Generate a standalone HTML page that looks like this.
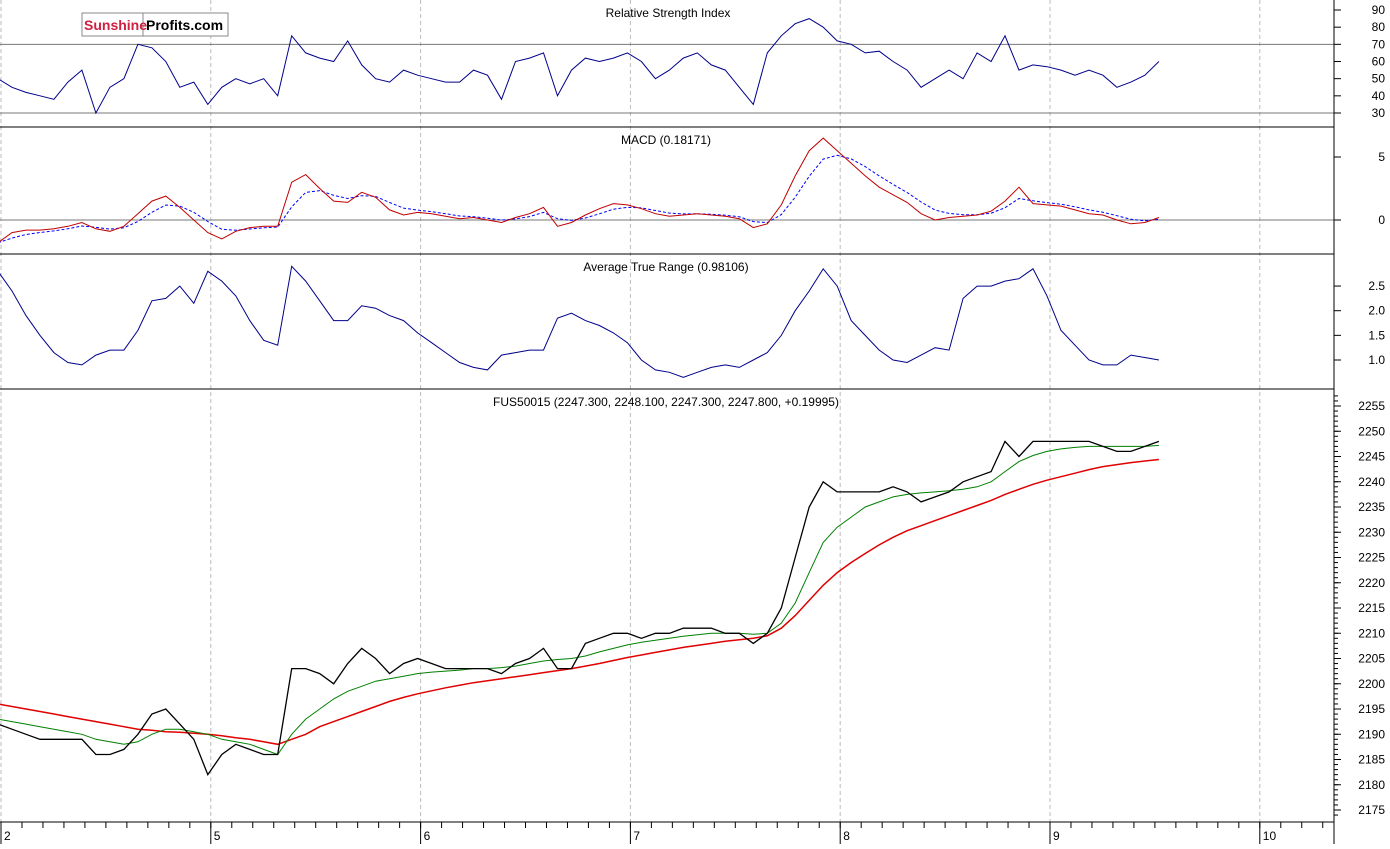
<!DOCTYPE html>
<html><head><meta charset="utf-8"><style>
body{margin:0;background:#fff;font-family:"Liberation Sans",sans-serif}
svg text{font-family:"Liberation Sans",sans-serif;font-size:12px;fill:#000}
</style></head><body>
<svg id="c" width="1390" height="844" xmlns="http://www.w3.org/2000/svg"></svg>
<script>
// ---- data (one value per ~1/15 session) ----
const dayLabels = ["2","5","6","7","8","9","10"];
const closes = [2192,2191,2190,2189,2189,2189,2189,2186,2186,2187,2190,2194,2195,2192,2189,2182,2186,2188,2187,2186,2186,2203,2203,2202,2200,2204,2207,2205,2202,2204,2205,2204,2203,2203,2203,2203,2202,2204,2205,2207,2203,2203,2208,2209,2210,2210,2209,2210,2210,2211,2211,2211,2210,2210,2208,2210,2215,2225,2235,2240,2238,2238,2238,2238,2239,2238,2236,2237,2238,2240,2241,2242,2248,2245,2248,2248,2248,2248,2248,2247,2246,2246,2247,2248];
const maFast = [2193,2192.5,2192,2191.5,2191,2190.5,2190,2189,2188.5,2188,2188.5,2190,2191,2191,2190.5,2190,2189,2188.5,2188,2187,2186,2190,2193,2195,2197,2198.5,2199.5,2200.5,2201,2201.5,2202,2202.3,2202.5,2202.7,2203,2203,2203.2,2203.5,2204,2204.5,2204.8,2205,2205.5,2206.3,2207,2207.7,2208.2,2208.6,2209,2209.4,2209.7,2210,2210,2210,2209.8,2210,2212,2216,2222,2228,2231,2233,2235,2236,2237,2237.5,2237.8,2238,2238.2,2238.5,2239,2240,2242,2244,2245.2,2246,2246.5,2246.8,2247,2247,2247,2247,2247,2247.2];
const maSlow = [2196,2195.5,2195,2194.5,2194,2193.5,2193,2192.5,2192,2191.5,2191,2190.8,2190.5,2190.4,2190.2,2190,2189.7,2189.3,2189,2188.5,2188,2189,2190,2191.5,2192.5,2193.5,2194.5,2195.5,2196.5,2197.3,2198,2198.6,2199.2,2199.7,2200.2,2200.6,2201,2201.4,2201.8,2202.2,2202.6,2203,2203.5,2204,2204.6,2205.2,2205.7,2206.2,2206.7,2207.2,2207.6,2208,2208.4,2208.7,2209,2209.5,2211,2213.5,2216.5,2219.5,2222,2224,2225.8,2227.5,2229,2230.3,2231.3,2232.3,2233.3,2234.3,2235.3,2236.3,2237.5,2238.5,2239.5,2240.3,2241,2241.7,2242.4,2243,2243.4,2243.8,2244.1,2244.4];
const rsi = [50,45,42,40,38,48,55,30,45,50,70,68,60,45,48,35,45,50,47,50,40,75,65,62,60,72,58,50,48,55,52,50,48,48,55,52,38,60,62,65,40,55,62,60,62,65,60,50,55,62,65,58,55,45,35,65,75,82,85,80,72,70,65,66,60,55,45,50,55,50,65,60,75,55,58,57,55,52,55,52,45,48,52,60];
const macd = [-1.8,-1,-0.8,-0.8,-0.7,-0.5,-0.2,-0.7,-0.9,-0.5,0.5,1.5,1.9,1,0,-1,-1.5,-0.9,-0.6,-0.5,-0.5,3,3.6,2.5,1.5,1.4,2.2,1.8,0.8,0.4,0.6,0.5,0.3,0.1,0.2,0,-0.2,0.2,0.5,1,-0.5,-0.2,0.4,0.9,1.3,1.2,0.9,0.5,0.3,0.4,0.5,0.4,0.3,0.1,-0.6,-0.3,1.2,3.5,5.5,6.5,5.5,4.5,3.5,2.6,2,1.4,0.5,0,0.2,0.3,0.4,0.7,1.5,2.6,1.3,1.2,1.1,0.8,0.5,0.4,0,-0.3,-0.2,0.2];
const atr = [2.8,2.4,1.9,1.5,1.15,0.95,0.9,1.1,1.2,1.2,1.6,2.2,2.25,2.5,2.15,2.8,2.6,2.3,1.8,1.4,1.3,2.9,2.6,2.2,1.8,1.8,2.1,2.05,1.9,1.8,1.55,1.35,1.15,0.95,0.85,0.8,1.1,1.15,1.2,1.2,1.85,1.95,1.8,1.7,1.55,1.35,1.0,0.8,0.75,0.65,0.75,0.85,0.9,0.85,1.0,1.15,1.5,2.0,2.4,2.85,2.5,1.8,1.5,1.2,1.0,0.95,1.1,1.25,1.2,2.25,2.5,2.5,2.6,2.65,2.85,2.3,1.6,1.3,1.0,0.9,0.9,1.1,1.05,1.0];
const priceTicks=[2175,2180,2185,2190,2195,2200,2205,2210,2215,2220,2225,2230,2235,2240,2245,2250,2255];
const rsiTicks=[30,40,50,60,70,80,90];
const macdTicks=[0,5];
const atrTicks=[1.0,1.5,2.0,2.5];
// signal line derived from macd
const signal=[];macd.forEach((v,i)=>signal.push(i?signal[i-1]*0.55+v*0.45:v));

const NS="http://www.w3.org/2000/svg";const svg=document.getElementById('c');
function el(t,a,p){const e=document.createElementNS(NS,t);for(const k in a)e.setAttribute(k,a[k]);(p||svg).appendChild(e);return e;}
const AX=1334;
const xT=t=>1+t*209.8; // t in sessions
const xi=i=>xT(i/15)-3;
const panels=[
 {top:0,bot:127,y:v=>10+(90-v)*103/60,ticks:rsiTicks,fmt:v=>v,title:"Relative Strength Index",tx:668,name:"rsi"},
 {top:127,bot:254,y:v=>220-v*12.6,ticks:macdTicks,fmt:v=>v,title:"MACD (0.18171)",tx:666,name:"macd"},
 {top:254,bot:389,y:v=>360-(v-1)*49.3,ticks:atrTicks,fmt:v=>v.toFixed(1),title:"Average True Range (0.98106)",tx:666,name:"atr"},
 {top:389,bot:822,y:v=>406+(2255-v)*5.05,ticks:priceTicks,fmt:v=>v,title:"FUS50015 (2247.300, 2248.100, 2247.300, 2247.800, +0.19995)",tx:666,name:"price"}];
// gridlines
for(let d=0;d<=6;d++){const x=xT(d);const g=el('line',{x1:x,x2:x,y1:0,y2:822,stroke:'#bbb','stroke-dasharray':'4,3'});

}
panels.forEach(p=>{
 const b=el('line',{x1:0,x2:AX,y1:p.bot,y2:p.bot,stroke:'#000'});
 
 
 const t=el('text',{x:p.tx,y:p.top+17,'text-anchor':'middle'});t.textContent=p.title;
 
 
 p.ticks.forEach(v=>{const y=p.y(v);
  el('line',{x1:AX,x2:AX+7,y1:y,y2:y,stroke:'#000'});
  const l=el('text',{x:1385,y:y+4,'text-anchor':'end'});l.textContent=p.fmt(v);
  
  });
});
// minor price ticks
for(let v=2174;v<=2257;v++){const y=panels[3].y(v);el('line',{x1:AX,x2:AX+4,y1:y,y2:y,stroke:'#000'});}
// reference lines
[70,30].forEach(v=>{const y=panels[0].y(v);el('line',{x1:0,x2:AX,y1:y,y2:y,stroke:'#777'});});
el('line',{x1:0,x2:AX,y1:panels[1].y(0),y2:panels[1].y(0),stroke:'#777'});
// right axis and bottom
el('line',{x1:AX,x2:AX,y1:0,y2:844,stroke:'#000'});
el('line',{x1:0,x2:AX,y1:822,y2:822,stroke:'#000'});
for(let k=0;k<=63;k++){const x=xT(k/10);el('line',{x1:x,x2:x,y1:822,y2:828,stroke:'#000'});}
dayLabels.forEach((d,i)=>{const x=xT(i);el('line',{x1:x,x2:x,y1:822,y2:844,stroke:'#000'});
 const t=el('text',{x:x+3,y:840});t.textContent=d;
 
 });
function line(arr,yf,color,name,w,dash){const pts=arr.map((v,i)=>xi(i).toFixed(1)+','+yf(v).toFixed(1)).join(' ');
 const a={points:pts,fill:'none',stroke:color,'stroke-width':w||1};if(dash)a['stroke-dasharray']=dash;
 const e=el('polyline',a);
 
 }
line(rsi,panels[0].y,'#00008b','rsi-line');
line(signal,panels[1].y,'#0000ff','macd-signal-line',1,'3,2');
line(macd,panels[1].y,'#c00000','macd-line');
line(atr,panels[2].y,'#00008b','atr-line');
line(maSlow,panels[3].y,'#e00000','slow-moving-average',1.5);
line(maFast,panels[3].y,'#008000','fast-moving-average');
line(closes,panels[3].y,'#000','price-line',1.3);
// logo
const g=el('g',{});
el('rect',{x:82,y:13,width:146,height:23,fill:'#fff',stroke:'#888'},g);
el('line',{x1:143,x2:143,y1:13,y2:36,stroke:'#888'},g);
const s1=el('text',{x:84,y:30,'font-weight':'bold',style:'fill:#d02040;font-size:14px'},g);s1.textContent='Sunshine';
const s2=el('text',{x:146,y:30,'font-weight':'bold',style:'font-size:14px'},g);s2.textContent='Profits.com';
</script></body></html>
